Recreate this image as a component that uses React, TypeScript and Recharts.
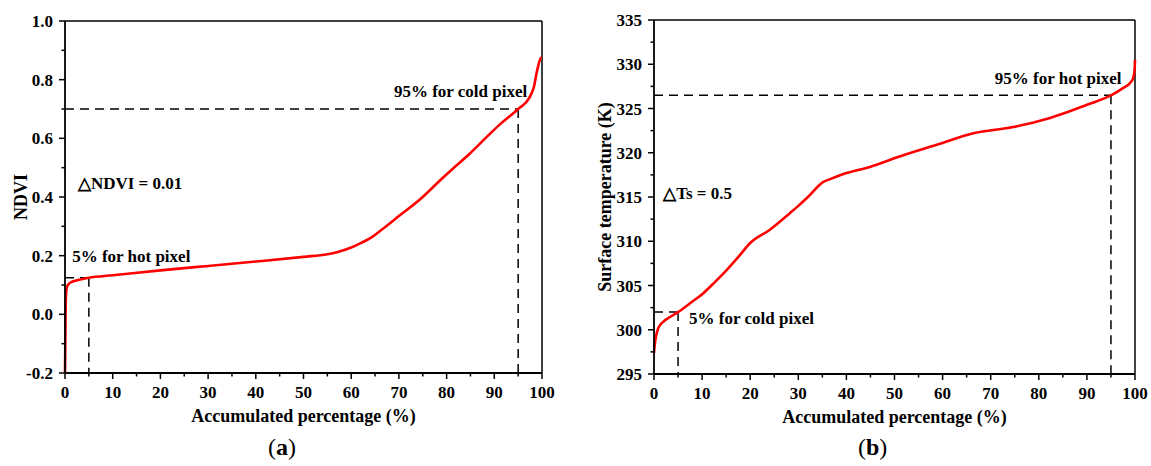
import { LineChart, Line, XAxis, YAxis, ReferenceLine, ReferenceDot } from "recharts";

const FONT = "'Liberation Serif', 'Times New Roman', serif";

// (a) NDVI vs accumulated percentage
const ndviPct = [0, 0.1, 0.15, 0.25, 0.4, 0.8, 1.5, 3, 5, 10, 20, 30, 40, 50, 55, 57, 60, 62, 64, 66.5, 70, 75, 78, 81, 85, 88, 91, 95, 97.3, 98.3, 99, 99.8, 100];
const ndviVal = [-0.2, -0.05, 0.03, 0.075, 0.093, 0.104, 0.111, 0.118, 0.125, 0.133, 0.15, 0.165, 0.18, 0.196, 0.205, 0.212, 0.228, 0.243, 0.26, 0.29, 0.335, 0.4, 0.447, 0.492, 0.55, 0.598, 0.645, 0.7, 0.737, 0.775, 0.833, 0.874, 0.875];
const ndviYTicks = [-0.2, -0.1, 0, 0.1, 0.2, 0.3, 0.4, 0.5, 0.6, 0.7, 0.8, 0.9, 1.0];

// (b) surface temperature vs accumulated percentage
const tsPct = [0, 0.2, 0.4, 0.9, 1.9, 3.5, 5, 7.5, 10.2, 12.5, 15.1, 17.5, 20, 24.1, 28.3, 30, 32, 35.2, 37, 40, 44.9, 51.2, 58.8, 66.4, 74.7, 81.6, 86, 89.9, 95.1, 97.5, 99, 99.6, 99.9, 100];
const tsVal = [297.4, 298.5, 299.2, 300.2, 300.9, 301.5, 302.0, 303.0, 304.1, 305.3, 306.75, 308.2, 309.8, 311.3, 313.2, 314.0, 315.0, 316.7, 317.1, 317.7, 318.4, 319.6, 320.9, 322.2, 322.9, 323.8, 324.6, 325.4, 326.5, 327.3, 327.9, 328.4, 329.3, 330.5];
const tsYTicks = [295, 297.5, 300, 302.5, 305, 307.5, 310, 312.5, 315, 317.5, 320, 322.5, 325, 327.5, 330, 332.5, 335];

const pctTicks = [0, 5, 10, 15, 20, 25, 30, 35, 40, 45, 50, 55, 60, 65, 70, 75, 80, 85, 90, 95, 100];

const ndviData = ndviPct.map((x, i) => ({ x, y: ndviVal[i] }));
const tsData = tsPct.map((x, i) => ({ x, y: tsVal[i] }));

const textProps = { fontFamily: FONT, fontWeight: "bold" as const, fill: "#000" };

function BottomTick(props: any) {
  const { x, y, payload } = props;
  const major = payload.value % 10 === 0;
  return (
    <g>
      <line x1={x} x2={x} y1={y} y2={y + (major ? 6 : 3.5)} stroke="#000" strokeWidth={1.5} />
      {major && (
        <text x={x} y={y + 25} textAnchor="middle" fontSize={17} {...textProps}>
          {payload.value}
        </text>
      )}
    </g>
  );
}

const makeLeftTick = (isMajor: (v: number) => boolean, fmt: (v: number) => string) =>
  function LeftTick(props: any) {
    const { x, y, payload } = props;
    const major = isMajor(payload.value);
    return (
      <g>
        <line x1={x} x2={x - (major ? 6 : 3.5)} y1={y} y2={y} stroke="#000" strokeWidth={1.5} />
        {major && (
          <text x={x - 12} y={y + 6} textAnchor="end" fontSize={17} {...textProps}>
            {fmt(payload.value)}
          </text>
        )}
      </g>
    );
  };

const NdviTick = makeLeftTick(v => Math.round(v * 10) % 2 === 0, v => v.toFixed(1));
const TsTick = makeLeftTick(v => v % 5 === 0, v => String(v));

const xTitle = (props: any) => {
  const vb = props.viewBox;
  return (
    <text x={vb.x + vb.width / 2} y={vb.y + 49} textAnchor="middle" fontSize={18} {...textProps}>
      Accumulated percentage (%)
    </text>
  );
};

const yTitle = (label: string, dx: number) => (props: any) => {
  const vb = props.viewBox;
  const cx = vb.x + dx;
  const cy = vb.y + vb.height / 2;
  return (
    <text x={cx} y={cy} transform={`rotate(-90 ${cx} ${cy})`} textAnchor="middle" dominantBaseline="central" fontSize={18} {...textProps}>
      {label}
    </text>
  );
};

const note = (label: string, anchor: "start" | "end") => (props: any) => {
  const vb = props.viewBox;
  return (
    <text x={vb.x} y={vb.y} textAnchor={anchor} fontSize={17} {...textProps}>
      {label}
    </text>
  );
};

const dash = { stroke: "#000", strokeWidth: 1.5, strokeDasharray: "9 6" };

export default function App() {
  return (
    <div style={{ position: "absolute", left: 0, top: 0, width: 1151, height: 466, background: "#fff" }}>
      <div style={{ position: "absolute", left: 0, top: 0 }}>
        <LineChart width={560} height={466} data={ndviData} margin={{ top: 21, right: 18, bottom: 33, left: 5 }}>
          <XAxis
            dataKey="x"
            type="number"
            domain={[0, 100]}
            ticks={pctTicks}
            interval={0}
            tickSize={0}
            tickMargin={0}
            tickLine={false}
            tick={<BottomTick />}
            height={60}
            axisLine={{ stroke: "#000", strokeWidth: 1.8 }}
            label={{ content: xTitle }}
          />
          <YAxis
            dataKey="y"
            type="number"
            domain={[-0.2, 1.0]}
            ticks={ndviYTicks}
            interval={0}
            tickSize={0}
            tickMargin={0}
            tickLine={false}
            tick={<NdviTick />}
            width={60}
            axisLine={{ stroke: "#000", strokeWidth: 1.8 }}
            label={{ content: yTitle("NDVI", 16) }}
          />
          <ReferenceLine y={1.0} stroke="#000" strokeWidth={1.5} />
          <ReferenceLine x={100} stroke="#000" strokeWidth={1.5} />
          <ReferenceLine segment={[{ x: 0, y: 0.7 }, { x: 95, y: 0.7 }]} {...dash} />
          <ReferenceLine segment={[{ x: 95, y: 0.7 }, { x: 95, y: -0.2 }]} {...dash} />
          <ReferenceLine segment={[{ x: 0, y: 0.125 }, { x: 5, y: 0.125 }]} {...dash} />
          <ReferenceLine segment={[{ x: 5, y: 0.125 }, { x: 5, y: -0.2 }]} {...dash} />
          <Line dataKey="y" type="monotone" stroke="#ff0000" strokeWidth={2.6} dot={false} isAnimationActive={false} />
          <ReferenceDot x={2.7} y={0.427} r={0} fill="none" stroke="none" label={{ content: note("△NDVI = 0.01", "start") }} />
          <ReferenceDot x={1.5} y={0.178} r={0} fill="none" stroke="none" label={{ content: note("5% for hot pixel", "start") }} />
          <ReferenceDot x={96.9} y={0.741} r={0} fill="none" stroke="none" label={{ content: note("95% for cold pixel", "end") }} />
        </LineChart>
      </div>
      <div style={{ position: "absolute", left: 570, top: 0 }}>
        <LineChart width={581} height={466} data={tsData} margin={{ top: 20, right: 16, bottom: 32, left: 20 }}>
          <XAxis
            dataKey="x"
            type="number"
            domain={[0, 100]}
            ticks={pctTicks}
            interval={0}
            tickSize={0}
            tickMargin={0}
            tickLine={false}
            tick={<BottomTick />}
            height={60}
            axisLine={{ stroke: "#000", strokeWidth: 1.8 }}
            label={{ content: xTitle }}
          />
          <YAxis
            dataKey="y"
            type="number"
            domain={[295, 335]}
            ticks={tsYTicks}
            interval={0}
            tickSize={0}
            tickMargin={0}
            tickLine={false}
            tick={<TsTick />}
            width={64}
            axisLine={{ stroke: "#000", strokeWidth: 1.8 }}
            label={{ content: yTitle("Surface temperature (K)", 15) }}
          />
          <ReferenceLine y={335} stroke="#000" strokeWidth={1.5} />
          <ReferenceLine x={100} stroke="#000" strokeWidth={1.5} />
          <ReferenceLine segment={[{ x: 0, y: 326.5 }, { x: 95, y: 326.5 }]} {...dash} />
          <ReferenceLine segment={[{ x: 95, y: 326.5 }, { x: 95, y: 295 }]} {...dash} />
          <ReferenceLine segment={[{ x: 0, y: 302 }, { x: 5, y: 302 }]} {...dash} />
          <ReferenceLine segment={[{ x: 5, y: 302 }, { x: 5, y: 295 }]} {...dash} />
          <Line dataKey="y" type="monotone" stroke="#ff0000" strokeWidth={2.6} dot={false} isAnimationActive={false} />
          <ReferenceDot x={1.9} y={314.8} r={0} fill="none" stroke="none" label={{ content: note("△Ts = 0.5", "start") }} />
          <ReferenceDot x={7.3} y={300.65} r={0} fill="none" stroke="none" label={{ content: note("5% for cold pixel", "start") }} />
          <ReferenceDot x={97.2} y={327.77} r={0} fill="none" stroke="none" label={{ content: note("95% for hot pixel", "end") }} />
        </LineChart>
      </div>
      <div style={{ position: "absolute", left: 268, top: 434, fontFamily: FONT, fontSize: 24, color: "#000" }}>
        (<b>a</b>)
      </div>
      <div style={{ position: "absolute", left: 858, top: 434, fontFamily: FONT, fontSize: 24, color: "#000" }}>
        (<b>b</b>)
      </div>
    </div>
  );
}
